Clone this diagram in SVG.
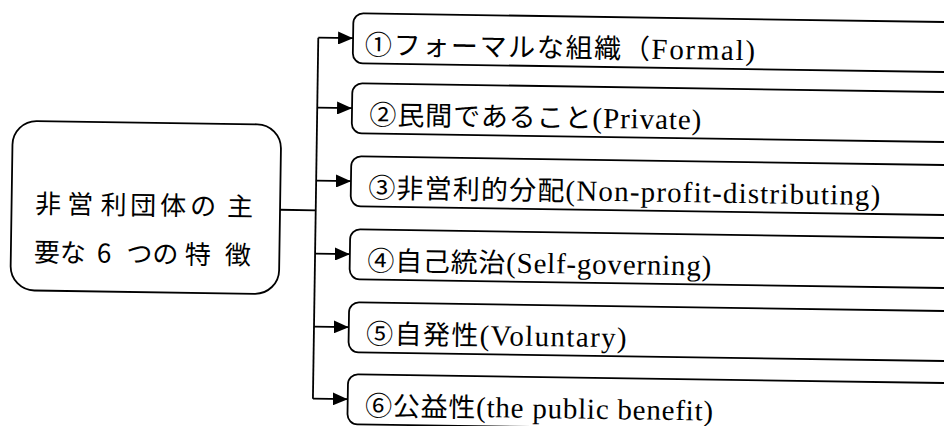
<svg xmlns="http://www.w3.org/2000/svg" width="944" height="426" viewBox="0 0 944 426">
<style>
.box{fill:#fff;stroke:#000;stroke-width:1.8}
.ln{fill:none;stroke:#000;stroke-width:1.8}
.t{font-family:"Liberation Serif","Noto Sans CJK JP",serif;font-size:27px;fill:#000}
.l{font-size:29px}
.c{font-family:"Noto Sans CJK JP","Liberation Sans",sans-serif;font-size:26px;fill:#000}
</style>
<defs>
<marker id="ah" viewBox="0 0 15 13" refX="15" refY="6.5" markerWidth="15" markerHeight="13" markerUnits="userSpaceOnUse" orient="auto">
<path d="M0,0 L15,6.5 L0,13 Z" fill="#000"/>
</marker>
</defs>
<rect width="944" height="426" fill="#fff"/>
<g transform="rotate(0.85 472 213)">
<g id="connectors">
<path class="ln" d="M280,212.6 H315.7"/>
<path class="ln" d="M315.7,40 V401"/>
<path class="ln" d="M315.7,40 H350.5" marker-end="url(#ah)"/>
<path class="ln" d="M315.7,110 H350.5" marker-end="url(#ah)"/>
<path class="ln" d="M315.7,183 H350.5" marker-end="url(#ah)"/>
<path class="ln" d="M315.7,256 H350.5" marker-end="url(#ah)"/>
<path class="ln" d="M315.7,329 H350.5" marker-end="url(#ah)"/>
<path class="ln" d="M315.7,401 H350.5" marker-end="url(#ah)"/>
</g>
<g id="root">
<rect class="box" x="11.5" y="127.5" width="268.5" height="169.5" rx="24"/>
<text class="c" x="35 67 100.5 130 160 190 227" y="219.5">非営利団体の主</text>
<text class="c" x="34.5 60.5 88 97.5 112 127 153 185.5 225.5" y="268">要な 6 つの特徴</text>
</g>
<g id="n1">
<rect class="box" x="350.5" y="15" width="640" height="50" rx="10"/>
<text class="t" x="362.5" y="56" textLength="390" lengthAdjust="spacing">①フォーマルな組織（<tspan class="l">Formal)</tspan></text>
</g>
<g id="n2">
<rect class="box" x="350.5" y="85" width="640" height="50" rx="10"/>
<text class="t" x="368" y="126" textLength="332" lengthAdjust="spacing">②民間であること<tspan class="l">(Private)</tspan></text>
</g>
<g id="n3">
<rect class="box" x="350.5" y="158" width="640" height="50" rx="10"/>
<text class="t" x="368" y="199" textLength="512" lengthAdjust="spacing">③非営利的分配<tspan class="l">(Non-profit-distributing)</tspan></text>
</g>
<g id="n4">
<rect class="box" x="350.5" y="231" width="640" height="50" rx="10"/>
<text class="t" x="368" y="272" textLength="344" lengthAdjust="spacing">④自己統治<tspan class="l">(Self-governing)</tspan></text>
</g>
<g id="n5">
<rect class="box" x="350.5" y="304" width="640" height="50" rx="10"/>
<text class="t" x="368" y="345" textLength="260.5" lengthAdjust="spacing">⑤自発性<tspan class="l">(Voluntary)</tspan></text>
</g>
<g id="n6">
<rect class="box" x="350.5" y="376" width="640" height="50" rx="10"/>
<text class="t" x="368" y="417" textLength="348" lengthAdjust="spacing">⑥公益性<tspan class="l">(the public benefit)</tspan></text>
</g>
</g>
</svg>
